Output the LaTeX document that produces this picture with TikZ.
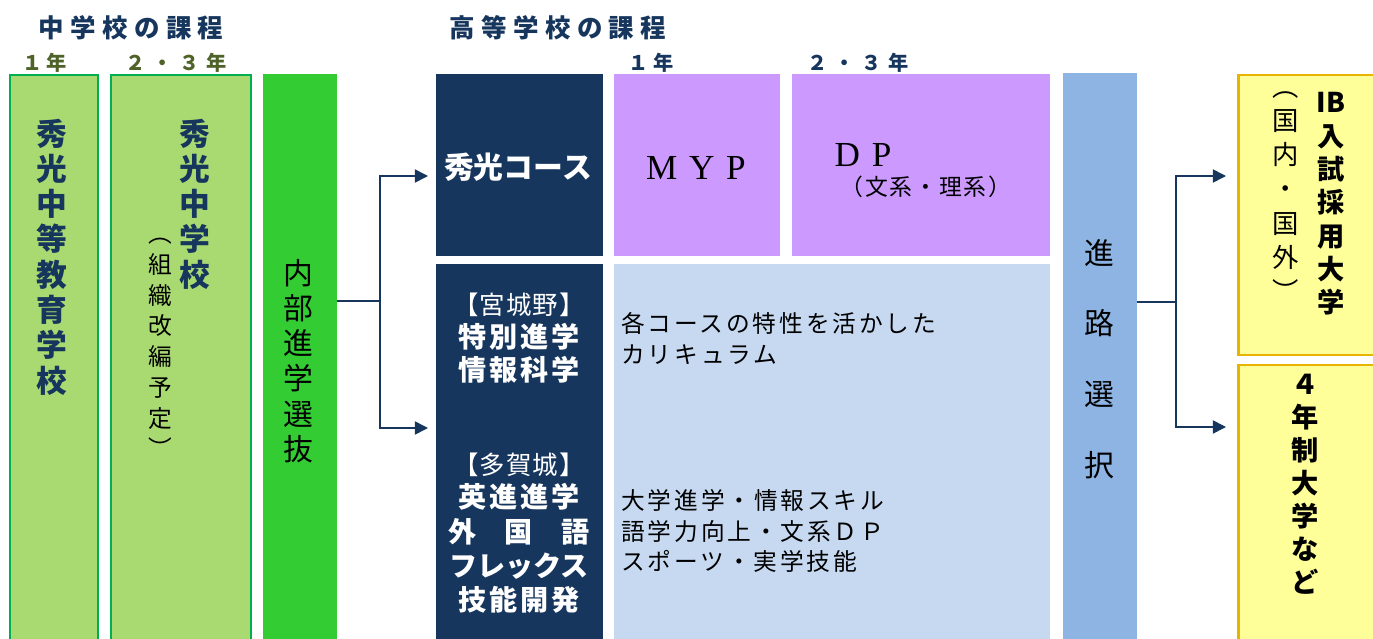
\documentclass[tikz,border=0pt]{standalone}
\usepackage{fontspec}
\newfontfamily\jp{Noto Sans CJK JP}
\newfontfamily\romfont{Liberation Serif}
\usetikzlibrary{positioning,fit,arrows.meta}
\definecolor{navy}{HTML}{17365D}
\definecolor{olive}{HTML}{4F6228}
\definecolor{lgreen}{HTML}{A9DA71}
\definecolor{dgreen}{HTML}{00B050}
\definecolor{bgreen}{HTML}{33CC33}
\definecolor{lilac}{HTML}{CC99FF}
\definecolor{lblue}{HTML}{C6D9F1}
\definecolor{mblue}{HTML}{8DB4E2}
\definecolor{lyellow}{HTML}{FFFF99}
\definecolor{gold}{HTML}{E8B400}
\newcommand{\fsz}[2]{\fontsize{#1}{#2}\selectfont}

\begin{document}
\begin{tikzpicture}[
    x=0.02cm, y=-0.02cm,
    box/.style={rectangle, inner sep=0pt, outer sep=0pt},
    jhbox/.style={box, fill=lgreen, draw=dgreen, line width=1.2pt},
    unibox/.style={box, fill=lyellow, draw=gold, line width=1.7pt},
    head/.style={inner sep=0pt, text=navy, font=\jp\bfseries\fsz{14.5}{17}\addfontfeatures{LetterSpace=25}},
    grade/.style={inner sep=0pt, font=\jp\bfseries\fsz{11.5}{14}\addfontfeatures{LetterSpace=20}},
    gradewide/.style={inner sep=0pt, font=\jp\bfseries\fsz{11.5}{14}\addfontfeatures{LetterSpace=34}},
    tate/.style={inner sep=0pt, align=center},
    wtext/.style={inner sep=0pt, align=center, text=white},
    note/.style={inner sep=0pt, align=left, anchor=west, font=\jp\fsz{13.5}{17.6}\addfontfeatures{LetterSpace=12}},
    flow/.style={draw=navy, line width=0.9pt, >={Triangle[length=7.5pt,width=7.5pt]}}
]
\useasboundingbox (0,0) rectangle (1373,639);

% Headings
\node[head] (jhead) at (131,28) {中学校の課程};
\node[head] (hhead) at (558,28) {高等学校の課程};
\node[grade, text=olive] (jg1) at (45,63) {１年};
\node[gradewide, text=olive] (jg23) at (176,63) {２・３年};
\node[grade, text=navy] (hg1) at (651,63) {１年};
\node[gradewide, text=navy] (hg23) at (858,63) {２・３年};

% Middle school
\node[jhbox, fit={(10,75) (98,660)}] (jh1) {};
\node[jhbox, fit={(111,75) (251,660)}] (jh23) {};
\node[box, fill=bgreen, fit={(263,74) (337,660)}] (naibu) {};
\node[tate, text=navy, font=\jp\bfseries\fsz{17.5}{20.1}] (jh1txt) at (52,257) {秀\\光\\中\\等\\教\\育\\学\\校};
\node[tate, text=navy, font=\jp\bfseries\fsz{17.5}{20.1}] (jh23txt) at (195,204) {秀\\光\\中\\学\\校};
\node[tate, font=\jp\fsz{13.5}{17.5}] (kaihen) at (160,348) {︵\\組\\織\\改\\編\\予\\定\\︶};
\node[tate, font=\jp\fsz{17}{20.1}] (naibutxt) at (298,361) {内\\部\\進\\学\\選\\抜};

% High school
\node[box, fill=navy, fit={(436,74) (603,256)}] (shuko) {};
\node[box, fill=lilac, fit={(614,74) (780,256)}] (myp) {};
\node[box, fill=lilac, fit={(792,74) (1050,256)}] (dp) {};
\node[box, fill=navy, fit={(436,264) (603,660)}] (futsu) {};
\node[box, fill=lblue, fit={(614,264) (1050,660)}] (curr) {};
\node[wtext, font=\jp\bfseries\fsz{17}{20}] (shukotxt) at (518,167) {秀光コース};
\node[inner sep=0pt, font=\romfont\fsz{20}{24}] (myptxt) at (696,168) {M\,\,Y\,\,P};
\node[inner sep=0pt, font=\romfont\fsz{20}{24}] (dptxt) at (863,155) {D\,\,P};
\node[inner sep=0pt, font=\jp\fsz{13}{15}\addfontfeatures{LetterSpace=8}] (bunri) at (926,187) {（文系・理系）};

\node[wtext, font=\jp\fsz{14.5}{17}\addfontfeatures{LetterSpace=4}] (miyagino) at (519,305) {【宮城野】};
\node[wtext, font=\jp\bfseries\fsz{16}{18.7}\addfontfeatures{LetterSpace=10}] (miyaginotxt) at (519,353.5) {特別進学\\情報科学};
\node[wtext, font=\jp\fsz{14.5}{17}\addfontfeatures{LetterSpace=4}] (tagajo) at (519,465) {【多賀城】};
\node[wtext, font=\jp\bfseries\fsz{16}{19.5}] (tagajotxt) at (519,548.5)
    {{\addfontfeatures{LetterSpace=10}英進進学}\\外　国　語\\フレックス\\{\addfontfeatures{LetterSpace=10}技能開発}};

\node[note] (note1) at (621,338.5) {各コースの特性を活かした\\カリキュラム};
\node[note] (note2) at (621,531) {大学進学・情報スキル\\語学力向上・文系ＤＰ\\スポーツ・実学技能};

% Career choice
\node[box, fill=mblue, fit={(1063,73) (1137,660)}] (shinro) {};
\node[tate, font=\jp\fsz{17}{40.3}] (shinrotxt) at (1099,359) {進\\路\\選\\択};
\node[unibox, fit={(1238,75) (1390,355)}] (ib) {};
\node[unibox, fit={(1238,365) (1390,660)}] (univ) {};
\node[tate, font=\jp\bfseries\fsz{15.5}{19}] (ibtxt) at (1331,204) {IB\\入\\試\\採\\用\\大\\学};
\node[tate, font=\jp\fsz{15}{19.4}] (kokunai) at (1286,196.5) {︵\\国\\内\\・\\国\\外\\︶};
\node[tate, font=\jp\bfseries\fsz{15.5}{18.8}] (univtxt) at (1305,484.5) {４\\年\\制\\大\\学\\な\\ど};

% Connectors
\coordinate (fork1) at (380,301);
\coordinate (in1) at (428,176);
\coordinate (in2) at (428,428);
\draw[flow] (naibu.east |- fork1) -- (fork1);
\draw[flow, ->] (fork1) |- (in1);
\draw[flow, ->] (fork1) |- (in2);

\coordinate (fork2) at (1176,302);
\coordinate (out1) at (1226,176);
\coordinate (out2) at (1226,427);
\draw[flow] (shinro.east |- fork2) -- (fork2);
\draw[flow, ->] (fork2) |- (out1);
\draw[flow, ->] (fork2) |- (out2);

\end{tikzpicture}
\end{document}
